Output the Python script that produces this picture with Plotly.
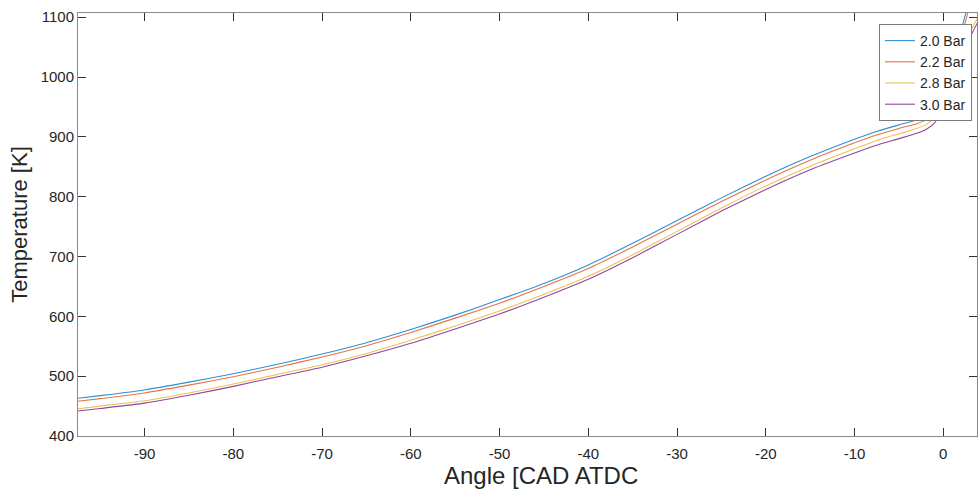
import plotly.graph_objects as go

angles = [-97.5, -95, -90, -85, -80, -75, -70, -65, -60, -55, -50, -45, -40, -35,
          -30, -25, -20, -15, -10, -7.5, -5, -3, -2, -1, 0, 1, 2, 3, 4]

t_20 = [463, 467.5, 477, 490, 504, 520, 537, 556, 578, 602, 628, 655, 686, 722,
        760, 798, 834, 867, 896, 909, 920, 928, 934, 950, 985, 1030, 1078, 1132, 1190]
t_22 = [458, 462.5, 472, 485, 499, 515, 532, 551, 573, 597, 622, 650, 680, 716,
        754, 792, 828, 861, 890, 903, 914, 922, 928, 942, 975, 1018, 1066, 1120, 1175]
t_28 = [445.5, 450, 459, 472, 487, 503, 519, 538, 560, 584, 609, 637, 667, 703,
        742, 781, 818, 851, 880, 894, 905, 914, 920, 932, 958, 1000, 1042, 1075, 1102]
t_30 = [441.7, 446, 455, 468, 483, 499, 515, 534, 555, 579, 604, 632, 662, 698,
        737, 776, 812, 845, 873, 886, 897, 906, 912, 923, 948, 990, 1032, 1066, 1095]

series_names = ["2.0 Bar", "2.2 Bar", "2.8 Bar", "3.0 Bar"]
series_vals = [t_20, t_22, t_28, t_30]
colors = ["#2f8fd6", "#e8733f", "#efc050", "#8e47a0"]

x_ticks = [-90, -80, -70, -60, -50, -40, -30, -20, -10, 0]
x_ticktext = ["-90", "-80", "-70", "-60", "-50", "-40", "-30", "-20", "-10", "0"]
y_ticks = [400, 500, 600, 700, 800, 900, 1000, 1100]

fig = go.Figure()
for name, vals, c in zip(series_names, series_vals, colors):
    fig.add_trace(go.Scatter(x=angles, y=vals, mode="lines", name=name,
                             line=dict(color=c, width=1.1, shape="spline", smoothing=0.5)))

font_family = "Liberation Sans, Arial, Helvetica, sans-serif"
axis_common = dict(
    showline=True, linecolor="#8a8a8a", linewidth=1, mirror="ticks",
    ticks="inside", ticklen=8, tickcolor="#333333", tickwidth=1,
    showgrid=False, zeroline=False,
    tickfont=dict(family=font_family, size=15, color="#262626"),
)

fig.update_layout(
    width=978, height=492,
    margin=dict(l=78, r=1, t=13, b=56),
    paper_bgcolor="white", plot_bgcolor="white",
    showlegend=True,
    legend=dict(
        x=0.9944, y=0.974, xanchor="right", yanchor="top",
        bgcolor="white", bordercolor="#7a7a7a", borderwidth=1,
        font=dict(family=font_family, size=14, color="#262626"),
        tracegroupgap=0, itemwidth=30,
    ),
    xaxis=dict(range=[-97.5, 3.8], tickvals=x_ticks, ticktext=x_ticktext,
               ticklabelstandoff=4, **axis_common),
    yaxis=dict(range=[400, 1107], tickvals=y_ticks,
               title=dict(text="Temperature [K]", standoff=6,
                          font=dict(family=font_family, size=22, color="#262626")),
               **axis_common),
    annotations=[dict(
        text="Angle [CAD ATDC", xref="paper", yref="paper",
        x=0.515, y=-0.0922, xanchor="center", yanchor="middle", showarrow=False,
        font=dict(family=font_family, size=24, color="#262626"),
    )],
)

fig.write_html("out.html")
